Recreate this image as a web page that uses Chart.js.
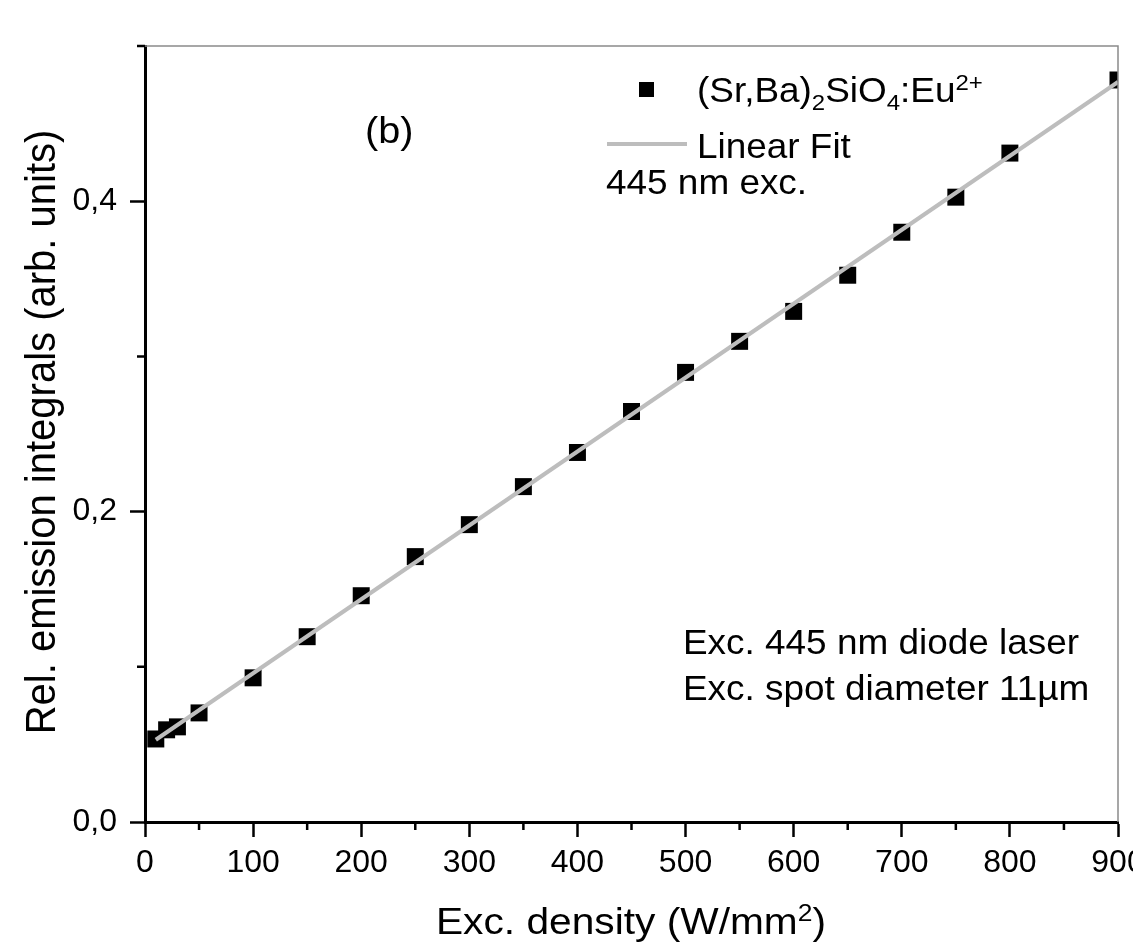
<!DOCTYPE html>
<html>
<head>
<meta charset="utf-8">
<script src="https://cdn.jsdelivr.net/npm/chart.js@4.4.0/dist/chart.umd.min.js"></script>
<style>
  html, body { margin: 0; padding: 0; background: #fff; }
  #wrap { width: 1133px; height: 948px; position: relative; }
</style>
</head>
<body>
<div id="wrap"><canvas id="myChart"></canvas></div>
<script>
const excDensity = [10, 20, 30, 50, 100, 150, 200, 250, 300, 350, 400, 450, 500, 550, 600, 650, 700, 750, 800, 900];
const emission = [0.0535, 0.0594, 0.0613, 0.0703, 0.0929, 0.1194, 0.1458, 0.1710, 0.1916, 0.2161, 0.2381, 0.2645,
                  0.2897, 0.3097, 0.3290, 0.3523, 0.3800, 0.4026, 0.4310, 0.4781];
// linear fit end points
const fitX = [10, 900];
const fitY = [0.0530, 0.4768];

// ticks
const xMajor = [0, 100, 200, 300, 400, 500, 600, 700, 800, 900];
const xMinor = [50, 150, 250, 350, 450, 550, 650, 750, 850];
const yMajor = [0, 0.2, 0.4];
const yTickLabels = ['0,0', '0,2', '0,4'];
const yMinor = [0.1, 0.3, 0.5];

const fam = '"Liberation Sans", Arial, sans-serif';
Chart.defaults.font.family = fam;
Chart.defaults.color = '#000';

// draws text pieces with sub/superscripts, slightly stretched sideways like the original
function drawRich(ctx, parts, x, y, size, opts) {
  opts = opts || {};
  const sx = opts.sx || 1.07;
  ctx.save();
  ctx.translate(x, y);
  ctx.scale(sx, 1);
  if (opts.rotate) ctx.rotate(opts.rotate);
  ctx.fillStyle = '#000';
  ctx.textBaseline = 'alphabetic';
  ctx.textAlign = 'left';
  const small = size * 0.65;
  let total = 0;
  parts.forEach(p => {
    ctx.font = ((p.sub || p.sup) ? small : size) + 'px ' + fam;
    total += ctx.measureText(p.t).width;
  });
  let cx = opts.center ? -total / 2 : 0;
  parts.forEach(p => {
    ctx.font = ((p.sub || p.sup) ? small : size) + 'px ' + fam;
    const dy = p.sub ? size * 0.24 : (p.sup ? -size * 0.36 : 0);
    ctx.fillText(p.t, cx, dy);
    cx += ctx.measureText(p.t).width;
  });
  ctx.restore();
}

const decorPlugin = {
  id: 'decor',
  afterDatasetsDraw(chart) {
    const {ctx, chartArea: a, scales: {x, y}} = chart;
    ctx.save();
    // thin frame on top and right
    ctx.strokeStyle = '#8a8a8a';
    ctx.lineWidth = 1.5;
    ctx.beginPath();
    ctx.moveTo(a.left, a.top);
    ctx.lineTo(a.right, a.top);
    ctx.lineTo(a.right, a.bottom);
    ctx.stroke();

    // minor ticks, outward
    ctx.strokeStyle = '#000';
    ctx.lineWidth = 2.5;
    ctx.beginPath();
    xMinor.forEach(v => {
      const px = x.getPixelForValue(v);
      ctx.moveTo(px, a.bottom);
      ctx.lineTo(px, a.bottom + 8);
    });
    yMinor.forEach(v => {
      const py = y.getPixelForValue(v);
      ctx.moveTo(a.left, py);
      ctx.lineTo(a.left - 8, py);
    });
    ctx.stroke();
    ctx.restore();
  },
  afterDraw(chart) {
    const ctx = chart.ctx;
    ctx.save();
    // axis titles
    drawRich(ctx, [{t: 'Exc. density (W/mm'}, {t: '2', sup: true}, {t: ')'}], 631, 934, 37, {center: true, sx: 1.1});
    drawRich(ctx, [{t: 'Rel. emission integrals (arb. units)'}], 55, 432, 40, {center: true, sx: 1.07, rotate: -Math.PI / 2});

    // panel label
    drawRich(ctx, [{t: '(b)'}], 365, 143, 37);

    // legend
    ctx.fillStyle = '#000';
    ctx.fillRect(639, 82, 15, 15);
    drawRich(ctx, [{t: '(Sr,Ba)'}, {t: '2', sub: true}, {t: 'SiO'}, {t: '4', sub: true}, {t: ':Eu'}, {t: '2+', sup: true}], 697, 102, 34.5);
    ctx.strokeStyle = '#bdbdbd';
    ctx.lineWidth = 4;
    ctx.beginPath();
    ctx.moveTo(607, 144);
    ctx.lineTo(687, 144);
    ctx.stroke();
    drawRich(ctx, [{t: 'Linear Fit'}], 697, 158, 34.5);
    drawRich(ctx, [{t: '445 nm exc.'}], 606, 194, 34.5);

    // notes
    drawRich(ctx, [{t: 'Exc. 445 nm diode laser'}], 683, 654, 34.5);
    drawRich(ctx, [{t: 'Exc. spot diameter 11µm'}], 683, 700, 34.5);
    ctx.restore();
  }
};

const ctx = document.getElementById('myChart').getContext('2d');
const myChart = new Chart(ctx, {
  type: 'scatter',
  data: {
    datasets: [
      {
        label: 'Linear Fit',
        data: fitX.map((v, i) => ({x: v, y: fitY[i]})),
        showLine: true,
        pointRadius: 0,
        borderColor: '#bdbdbd',
        borderWidth: 4,
        order: 0
      },
      {
        label: '(Sr,Ba)2SiO4:Eu2+',
        data: excDensity.map((v, i) => ({x: v, y: emission[i]})),
        pointStyle: 'rect',
        pointRadius: 12,
        pointHoverRadius: 12,
        backgroundColor: '#000',
        borderColor: '#000',
        borderWidth: 0,
        clip: 0,
        order: 1
      }
    ]
  },
  options: {
    responsive: true,
    maintainAspectRatio: false,
    animation: false,
    layout: { padding: { top: 46, right: 15, left: 0, bottom: 0 } },
    plugins: { legend: { display: false }, tooltip: { enabled: false } },
    scales: {
      x: {
        type: 'linear',
        position: 'bottom',
        min: 0,
        max: 900,
        afterBuildTicks: s => { s.ticks = xMajor.map(v => ({value: v})); },
        afterFit: s => { s.height = 126; s.paddingRight = 0; s.paddingLeft = 0; },
        grid: { drawOnChartArea: false, drawTicks: true, tickLength: 15, tickWidth: 2.5, tickColor: '#000' },
        border: { display: true, color: '#000', width: 3 },
        ticks: { autoSkip: false, maxRotation: 0, padding: 7, font: { size: 32 }, color: '#000' },
        title: { display: false }
      },
      y: {
        type: 'linear',
        position: 'left',
        min: 0,
        max: 0.5,
        afterBuildTicks: s => { s.ticks = yMajor.map(v => ({value: v})); },
        afterFit: s => { s.width = 145; s.paddingTop = 0; s.paddingBottom = 0; },
        grid: { drawOnChartArea: false, drawTicks: true, tickLength: 15, tickWidth: 2.5, tickColor: '#000' },
        border: { display: true, color: '#000', width: 3 },
        ticks: { padding: 13, font: { size: 32 }, color: '#000', callback: (v, i) => yTickLabels[i] },
        title: { display: false }
      }
    }
  },
  plugins: [decorPlugin]
});
</script>
</body>
</html>
